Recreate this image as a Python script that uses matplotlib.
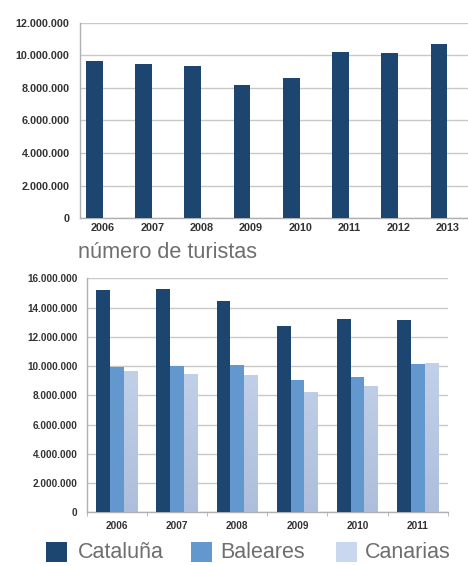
import numpy as np
import matplotlib
matplotlib.use("Agg")
import matplotlib.pyplot as plt
from matplotlib.ticker import FuncFormatter, FixedLocator
from matplotlib.colors import LinearSegmentedColormap
from matplotlib.patches import Rectangle

# ---------------- data ----------------
years_top = ["2006", "2007", "2008", "2009", "2010", "2011", "2012", "2013"]
canarias_top = [9620000, 9440000, 9360000, 8190000, 8620000, 10220000, 10140000, 10670000]

years_bottom = ["2006", "2007", "2008", "2009", "2010", "2011"]
cataluna = [15180000, 15270000, 14430000, 12760000, 13240000, 13170000]
baleares = [9960000, 10030000, 10050000, 9050000, 9250000, 10140000]
canarias = [9640000, 9470000, 9390000, 8210000, 8650000, 10240000]

series_names = ["Cataluña", "Baleares", "Canarias"]
subtitle = "número de turistas"

# ---------------- style ----------------
C_DARK = "#1c4570"
C_MID = "#6398cf"
C_LIGHT = "#c9d8ee"
GRID = "#c8c8c8"
TICK_TXT = "#333333"
TICKFONT = ["Liberation Sans", "DejaVu Sans"]
TXTFONT = ["Liberation Sans", "DejaVu Sans"]
W, H = 468, 566

def fmt(v, pos):
    return f"{int(v):,}".replace(",", ".")

fig = plt.figure(figsize=(W/100, H/100), dpi=100)
fig.patch.set_facecolor("white")

# ---------------- top chart ----------------
ax1 = fig.add_axes([80/W, 1-218.3/H, 1-80/W, (218.3-22.7)/H])
x1 = np.arange(len(years_top))
ax1.bar(x1 - 0.18, canarias_top, width=0.34, color=C_DARK, zorder=3)
ax1.set_xlim(-0.47, len(years_top) - 0.59)
ax1.set_ylim(0, 12000000)
ax1.set_yticks(np.arange(0, 12000001, 2000000))
ax1.yaxis.set_major_formatter(FuncFormatter(fmt))
ax1.set_xticks(x1)
ax1.set_xticklabels(years_top)
ax1.grid(axis="y", color=GRID, linewidth=1.0, zorder=0)
for s in ["top", "right"]:
    ax1.spines[s].set_visible(False)
for s in ["left", "bottom"]:
    ax1.spines[s].set_color("#b0b0b0")
    ax1.spines[s].set_linewidth(1.0)
ax1.tick_params(axis="both", length=0, colors=TICK_TXT)
ax1.tick_params(axis="y", pad=7.5)
ax1.tick_params(axis="x", pad=3.5)
for lab in ax1.get_yticklabels() + ax1.get_xticklabels():
    lab.set_fontfamily(TICKFONT)
    lab.set_fontweight("bold")
    lab.set_fontsize(7.8)

# subtitle
fig.text(78/W, 1-252.7/H, subtitle, fontsize=15.6, color="#6e6e6e",
         family=TXTFONT, va="center", ha="left")

# ---------------- bottom chart ----------------
ax2 = fig.add_axes([86.7/W, 1-512.3/H, (447.8-86.7)/W, (512.3-278.3)/H])
x2 = np.arange(len(years_bottom))
w = 0.227
ax2.bar(x2 - w, cataluna, width=w, color=C_DARK, zorder=3)
ax2.bar(x2, baleares, width=w, color=C_MID, zorder=3)
b3 = ax2.bar(x2 + w, canarias, width=w, color=C_LIGHT, zorder=3)

# gradient on the light series
grad = np.linspace(0, 1, 256).reshape(-1, 1)
cmap = LinearSegmentedColormap.from_list("g", ["#adbedc", "#cddcf1"])
for p in b3.patches:
    im = ax2.imshow(grad, cmap=cmap, aspect="auto", origin="lower",
                    extent=[p.get_x(), p.get_x() + p.get_width(), 0, 16000000],
                    zorder=3.5)
    im.set_clip_path(p)
ax2.set_xlim(-0.5, len(years_bottom) - 0.5)
ax2.set_ylim(0, 16000000)

ax2.set_yticks(np.arange(0, 16000001, 2000000))
ax2.yaxis.set_major_formatter(FuncFormatter(fmt))
ax2.set_xticks(x2)
ax2.set_xticklabels(years_bottom)
ax2.xaxis.set_minor_locator(FixedLocator(np.arange(-0.5, len(years_bottom), 1.0)))
ax2.grid(axis="y", color=GRID, linewidth=1.0, zorder=0)
for s in ["top", "right"]:
    ax2.spines[s].set_visible(False)
for s in ["left", "bottom"]:
    ax2.spines[s].set_color("#b0b0b0")
    ax2.spines[s].set_linewidth(1.0)
ax2.tick_params(axis="both", which="major", length=0, colors=TICK_TXT)
ax2.tick_params(axis="x", which="minor", length=3, color="#b0b0b0")
ax2.tick_params(axis="y", pad=6.8)
ax2.tick_params(axis="x", pad=6.5)
for lab in ax2.get_yticklabels() + ax2.get_xticklabels():
    lab.set_fontfamily(TICKFONT)
    lab.set_fontweight("bold")
    lab.set_fontsize(7.2)

# legend (placed manually)
leg_colors = [C_DARK, C_MID, C_LIGHT]
sq_x = [45.7, 190.7, 336.0]
txt_x = [78.3, 220.0, 365.0]
for name, c, sx, tx in zip(series_names, leg_colors, sq_x, txt_x):
    fig.patches.append(Rectangle((sx/W, 1-562.3/H), 21/W, 20/H,
                                 transform=fig.transFigure, facecolor=c,
                                 edgecolor="none"))
    fig.text(tx/W, 1-552.0/H, name, fontsize=15.5, color="#6e6e6e",
             family=TXTFONT, va="center", ha="left")

fig.savefig("out.png", dpi=100, facecolor="white")
